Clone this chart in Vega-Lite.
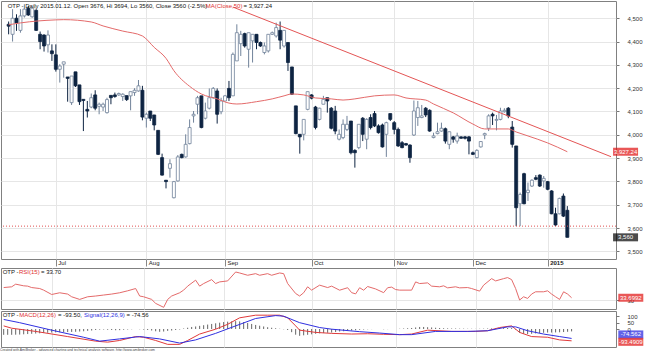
{
  "$schema": "https://vega.github.io/schema/vega-lite/v6.json",
  "padding": 0,
  "background": "white",
  "spacing": 0,
  "config": {
    "view": {"stroke": "#808080", "strokeWidth": 1},
    "axis": {"labelFont": "Liberation Sans", "labelFontSize": 6, "labelColor": "#333", "gridColor": "#e6e6e6", "tickColor": "#777", "domain": false, "title": null, "labelOverlap": false, "labelFlush": false},
    "text": {"font": "Liberation Sans"}
  },
  "title": {"text": "Created with AmiBroker - advanced charting and technical analysis software. http://www.amibroker.com", "orient": "bottom", "anchor": "start", "fontSize": 3.4, "font": "Liberation Sans", "fontWeight": "normal", "color": "#444", "offset": 0},
  "resolve": {"scale": {"x": "independent", "y": "independent"}},
  "datasets": {
    "candles": [
      {"i":1,"o":4474,"hi":4486,"lo":4431,"c":4466,"hist":-46},
      {"i":2,"o":4431,"hi":4539,"lo":4400,"c":4500,"hist":-46},
      {"i":3,"o":4500,"hi":4517,"lo":4446,"c":4480,"hist":-46},
      {"i":4,"o":4448,"hi":4539,"lo":4438,"c":4510,"hist":-45},
      {"i":5,"o":4510,"hi":4560,"lo":4503,"c":4539,"hist":-44},
      {"i":6,"o":4543,"hi":4553,"lo":4510,"c":4514,"hist":-42},
      {"i":7,"o":4506,"hi":4546,"lo":4503,"c":4543,"hist":-40},
      {"i":8,"o":4534,"hi":4539,"lo":4446,"c":4448,"hist":-38},
      {"i":9,"o":4431,"hi":4443,"lo":4367,"c":4400,"hist":-36},
      {"i":10,"o":4428,"hi":4431,"lo":4357,"c":4381,"hist":-34},
      {"i":11,"o":4386,"hi":4448,"lo":4353,"c":4428,"hist":-32},
      {"i":12,"o":4360,"hi":4388,"lo":4317,"c":4348,"hist":-30},
      {"i":13,"o":4343,"hi":4388,"lo":4271,"c":4281,"hist":-28},
      {"i":14,"o":4281,"hi":4303,"lo":4224,"c":4295,"hist":-27},
      {"i":15,"o":4303,"hi":4313,"lo":4245,"c":4313,"hist":-26},
      {"i":16,"o":4248,"hi":4248,"lo":4142,"c":4242,"hist":-25},
      {"i":17,"o":4138,"hi":4252,"lo":4128,"c":4252,"hist":-24},
      {"i":18,"o":4270,"hi":4270,"lo":4205,"c":4210,"hist":-23},
      {"i":19,"o":4214,"hi":4214,"lo":4128,"c":4142,"hist":-22},
      {"i":20,"o":4152,"hi":4152,"lo":4016,"c":4147,"hist":-20},
      {"i":21,"o":4109,"hi":4145,"lo":4074,"c":4102,"hist":-18},
      {"i":22,"o":4119,"hi":4177,"lo":4114,"c":4159,"hist":-15},
      {"i":23,"o":4171,"hi":4191,"lo":4105,"c":4114,"hist":-12},
      {"i":24,"o":4122,"hi":4138,"lo":4088,"c":4131,"hist":-8},
      {"i":25,"o":4119,"hi":4138,"lo":4102,"c":4131,"hist":-5},
      {"i":26,"o":4095,"hi":4159,"lo":4091,"c":4151,"hist":-4},
      {"i":27,"o":4169,"hi":4169,"lo":4131,"c":4159,"hist":-6},
      {"i":28,"o":4171,"hi":4181,"lo":4159,"c":4164,"hist":-8},
      {"i":29,"o":4171,"hi":4181,"lo":4167,"c":4177,"hist":-10},
      {"i":30,"o":4164,"hi":4178,"lo":4145,"c":4174,"hist":-9},
      {"i":31,"o":4168,"hi":4168,"lo":4145,"c":4151,"hist":-6},
      {"i":32,"o":4167,"hi":4185,"lo":4105,"c":4185,"hist":-4},
      {"i":33,"o":4181,"hi":4200,"lo":4167,"c":4191,"hist":-2},
      {"i":34,"o":4188,"hi":4235,"lo":4185,"c":4210,"hist":0},
      {"i":35,"o":4191,"hi":4210,"lo":4062,"c":4076,"hist":-2},
      {"i":36,"o":4071,"hi":4095,"lo":4031,"c":4088,"hist":-5},
      {"i":37,"o":4102,"hi":4102,"lo":4059,"c":4071,"hist":-8},
      {"i":38,"o":4085,"hi":4085,"lo":4019,"c":4042,"hist":-12},
      {"i":39,"o":4019,"hi":4019,"lo":3913,"c":3916,"hist":-18},
      {"i":40,"o":3902,"hi":3919,"lo":3825,"c":3827,"hist":-22},
      {"i":41,"o":3805,"hi":3805,"lo":3770,"c":3799,"hist":-20},
      {"i":42,"o":3856,"hi":3895,"lo":3816,"c":3876,"hist":-15},
      {"i":43,"o":3730,"hi":3802,"lo":3727,"c":3799,"hist":-12},
      {"i":44,"o":3802,"hi":3913,"lo":3799,"c":3905,"hist":-8},
      {"i":45,"o":3916,"hi":3919,"lo":3899,"c":3902,"hist":-4},
      {"i":46,"o":3905,"hi":4002,"lo":3902,"c":3959,"hist":4},
      {"i":47,"o":3962,"hi":4066,"lo":3959,"c":4031,"hist":10},
      {"i":48,"o":4081,"hi":4102,"lo":4052,"c":4088,"hist":16},
      {"i":49,"o":4131,"hi":4167,"lo":4088,"c":4159,"hist":20},
      {"i":50,"o":4167,"hi":4167,"lo":4028,"c":4031,"hist":25},
      {"i":51,"o":4071,"hi":4138,"lo":4066,"c":4102,"hist":30},
      {"i":52,"o":4114,"hi":4199,"lo":4109,"c":4159,"hist":35},
      {"i":53,"o":4159,"hi":4205,"lo":4155,"c":4199,"hist":40},
      {"i":54,"o":4188,"hi":4199,"lo":4048,"c":4088,"hist":45},
      {"i":55,"o":4099,"hi":4159,"lo":4088,"c":4145,"hist":50},
      {"i":56,"o":4145,"hi":4171,"lo":4145,"c":4167,"hist":55},
      {"i":57,"o":4199,"hi":4231,"lo":4145,"c":4159,"hist":58},
      {"i":58,"o":4167,"hi":4353,"lo":4167,"c":4345,"hist":60},
      {"i":59,"o":4317,"hi":4474,"lo":4317,"c":4438,"hist":62},
      {"i":60,"o":4391,"hi":4446,"lo":4338,"c":4431,"hist":60},
      {"i":61,"o":4434,"hi":4438,"lo":4374,"c":4381,"hist":55},
      {"i":62,"o":4367,"hi":4438,"lo":4288,"c":4438,"hist":48},
      {"i":63,"o":4403,"hi":4431,"lo":4310,"c":4431,"hist":40},
      {"i":64,"o":4431,"hi":4431,"lo":4367,"c":4396,"hist":32},
      {"i":65,"o":4396,"hi":4400,"lo":4377,"c":4381,"hist":26},
      {"i":66,"o":4353,"hi":4396,"lo":4345,"c":4381,"hist":20},
      {"i":67,"o":4360,"hi":4431,"lo":4353,"c":4431,"hist":14},
      {"i":68,"o":4431,"hi":4443,"lo":4428,"c":4438,"hist":10},
      {"i":69,"o":4424,"hi":4481,"lo":4417,"c":4460,"hist":6},
      {"i":70,"o":4448,"hi":4486,"lo":4367,"c":4406,"hist":2},
      {"i":71,"o":4381,"hi":4448,"lo":4374,"c":4448,"hist":-2},
      {"i":72,"o":4396,"hi":4396,"lo":4274,"c":4310,"hist":-8},
      {"i":73,"o":4291,"hi":4291,"lo":4171,"c":4174,"hist":-25},
      {"i":74,"o":4124,"hi":4124,"lo":4002,"c":4005,"hist":-45},
      {"i":75,"o":4002,"hi":4002,"lo":3919,"c":3991,"hist":-54},
      {"i":76,"o":4002,"hi":4066,"lo":3976,"c":4066,"hist":-50},
      {"i":77,"o":4109,"hi":4185,"lo":4105,"c":4185,"hist":-46},
      {"i":78,"o":4171,"hi":4174,"lo":4152,"c":4157,"hist":-42},
      {"i":79,"o":4119,"hi":4124,"lo":4023,"c":4031,"hist":-38},
      {"i":80,"o":4066,"hi":4116,"lo":4062,"c":4114,"hist":-34},
      {"i":81,"o":4131,"hi":4167,"lo":4131,"c":4152,"hist":-32},
      {"i":82,"o":4159,"hi":4159,"lo":4095,"c":4145,"hist":-30},
      {"i":83,"o":4114,"hi":4119,"lo":4023,"c":4028,"hist":-28},
      {"i":84,"o":4102,"hi":4124,"lo":4002,"c":4016,"hist":-24},
      {"i":85,"o":3981,"hi":4023,"lo":3976,"c":4002,"hist":-20},
      {"i":86,"o":3988,"hi":4066,"lo":3981,"c":4045,"hist":-18},
      {"i":87,"o":4023,"hi":4081,"lo":4016,"c":4045,"hist":-14},
      {"i":88,"o":4059,"hi":4059,"lo":3916,"c":3923,"hist":-12},
      {"i":89,"o":3933,"hi":3938,"lo":3859,"c":3923,"hist":-10},
      {"i":90,"o":3945,"hi":4045,"lo":3938,"c":4045,"hist":-6},
      {"i":91,"o":4071,"hi":4076,"lo":3973,"c":4002,"hist":-4},
      {"i":92,"o":3981,"hi":4071,"lo":3938,"c":4066,"hist":-2},
      {"i":93,"o":4074,"hi":4088,"lo":4023,"c":4031,"hist":-1},
      {"i":94,"o":4091,"hi":4102,"lo":4033,"c":4038,"hist":0},
      {"i":95,"o":4038,"hi":4045,"lo":4005,"c":4009,"hist":0},
      {"i":96,"o":4042,"hi":4048,"lo":3945,"c":3948,"hist":-2},
      {"i":97,"o":4002,"hi":4056,"lo":3905,"c":4052,"hist":-1},
      {"i":98,"o":4091,"hi":4091,"lo":4059,"c":4066,"hist":0},
      {"i":99,"o":4052,"hi":4059,"lo":4002,"c":4023,"hist":0},
      {"i":100,"o":4023,"hi":4031,"lo":3948,"c":3952,"hist":2},
      {"i":101,"o":3966,"hi":3973,"lo":3942,"c":3945,"hist":4},
      {"i":102,"o":3962,"hi":3965,"lo":3953,"c":3956,"hist":6},
      {"i":103,"o":3956,"hi":3959,"lo":3880,"c":3902,"hist":8},
      {"i":104,"o":3999,"hi":4147,"lo":3995,"c":4102,"hist":12},
      {"i":105,"o":4074,"hi":4145,"lo":4038,"c":4116,"hist":16},
      {"i":106,"o":4074,"hi":4128,"lo":4071,"c":4081,"hist":16},
      {"i":107,"o":4114,"hi":4119,"lo":4076,"c":4085,"hist":14},
      {"i":108,"o":4105,"hi":4109,"lo":4013,"c":4016,"hist":12},
      {"i":109,"o":3988,"hi":4009,"lo":3985,"c":3995,"hist":10},
      {"i":110,"o":4005,"hi":4052,"lo":4002,"c":4013,"hist":8},
      {"i":111,"o":4016,"hi":4052,"lo":4013,"c":4028,"hist":6},
      {"i":112,"o":4026,"hi":4031,"lo":3962,"c":3973,"hist":5},
      {"i":113,"o":3959,"hi":4013,"lo":3938,"c":4013,"hist":4},
      {"i":114,"o":3991,"hi":3995,"lo":3966,"c":3981,"hist":4},
      {"i":115,"o":3973,"hi":4009,"lo":3962,"c":3995,"hist":3},
      {"i":116,"o":3991,"hi":3993,"lo":3983,"c":3985,"hist":3},
      {"i":117,"o":3991,"hi":3995,"lo":3980,"c":3985,"hist":2},
      {"i":118,"o":3991,"hi":3995,"lo":3916,"c":3973,"hist":2},
      {"i":119,"o":3923,"hi":3928,"lo":3913,"c":3916,"hist":1},
      {"i":120,"o":3902,"hi":3938,"lo":3899,"c":3933,"hist":2},
      {"i":121,"o":3948,"hi":3973,"lo":3945,"c":3971,"hist":3},
      {"i":122,"o":3999,"hi":4009,"lo":3981,"c":4005,"hist":4},
      {"i":123,"o":4028,"hi":4088,"lo":4016,"c":4081,"hist":5},
      {"i":124,"o":4088,"hi":4095,"lo":4042,"c":4081,"hist":6},
      {"i":125,"o":4062,"hi":4085,"lo":4019,"c":4066,"hist":7},
      {"i":126,"o":4066,"hi":4116,"lo":4062,"c":4102,"hist":7},
      {"i":127,"o":4099,"hi":4114,"lo":4095,"c":4105,"hist":8},
      {"i":128,"o":4114,"hi":4119,"lo":4071,"c":4081,"hist":7},
      {"i":129,"o":4033,"hi":4059,"lo":3945,"c":3959,"hist":-5},
      {"i":130,"o":3952,"hi":3952,"lo":3608,"c":3687,"hist":-30},
      {"i":131,"o":3704,"hi":3752,"lo":3608,"c":3744,"hist":-38},
      {"i":132,"o":3833,"hi":3837,"lo":3702,"c":3704,"hist":-40},
      {"i":133,"o":3752,"hi":3795,"lo":3716,"c":3762,"hist":-38},
      {"i":134,"o":3780,"hi":3809,"lo":3776,"c":3805,"hist":-35},
      {"i":135,"o":3816,"hi":3827,"lo":3805,"c":3809,"hist":-32},
      {"i":136,"o":3827,"hi":3830,"lo":3776,"c":3780,"hist":-30},
      {"i":137,"o":3802,"hi":3823,"lo":3773,"c":3813,"hist":-28},
      {"i":138,"o":3799,"hi":3802,"lo":3762,"c":3766,"hist":-28},
      {"i":139,"o":3759,"hi":3762,"lo":3659,"c":3661,"hist":-27},
      {"i":140,"o":3661,"hi":3687,"lo":3608,"c":3613,"hist":-26},
      {"i":141,"o":3661,"hi":3730,"lo":3659,"c":3727,"hist":-24},
      {"i":142,"o":3737,"hi":3748,"lo":3647,"c":3651,"hist":-22},
      {"i":143,"o":3676,"hi":3694,"lo":3560,"c":3560,"hist":-19}
    ],
    "ma": [
      {"i":1,"v":4472},{"i":4,"v":4480},{"i":13,"v":4493},{"i":15,"v":4494},{"i":22,"v":4484},{"i":25,"v":4467},{"i":30,"v":4445},{"i":35,"v":4424},{"i":38,"v":4375},{"i":41,"v":4328},{"i":43,"v":4275},{"i":47,"v":4208},{"i":50,"v":4175},{"i":54,"v":4154},{"i":57,"v":4136},{"i":59,"v":4132},{"i":64,"v":4142},{"i":68,"v":4154},{"i":71,"v":4167},{"i":73,"v":4175},{"i":76,"v":4171},{"i":79,"v":4158},{"i":83,"v":4154},{"i":86,"v":4149},{"i":89,"v":4154},{"i":94,"v":4167},{"i":99,"v":4171},{"i":102,"v":4158},{"i":107,"v":4149},{"i":109,"v":4132},{"i":114,"v":4094},{"i":119,"v":4046},{"i":122,"v":4025},{"i":125,"v":4025},{"i":128,"v":4025},{"i":130,"v":4012},{"i":133,"v":3995},{"i":138,"v":3965},{"i":143,"v":3927.24}
    ],
    "trend": [{"i":58,"v":4548},{"i":154.1,"v":3906}],
    "levels": [{"v":3608}],
    "pricetags": [{"v":3927.24,"t":"3,927.24","k":"ma"},{"v":3560,"t":"3,560","k":"close"}],
    "rsi": [
      {"i":1,"v":50.3},{"i":3,"v":51.5},{"i":4,"v":55.8},{"i":6,"v":53.1},{"i":7,"v":52.6},{"i":8,"v":50.3},{"i":10,"v":48.7},{"i":11,"v":46.1},{"i":13,"v":39.0},{"i":15,"v":41.8},{"i":17,"v":39.7},{"i":18,"v":35.3},{"i":20,"v":31.0},{"i":22,"v":35.3},{"i":24,"v":36.5},{"i":26,"v":38.1},{"i":28,"v":39.7},{"i":30,"v":41.8},{"i":32,"v":45.0},{"i":34,"v":48.7},{"i":35,"v":36.5},{"i":36,"v":35.3},{"i":38,"v":31.0},{"i":39,"v":24.5},{"i":41,"v":18.1},{"i":42,"v":31.0},{"i":43,"v":36.5},{"i":45,"v":41.8},{"i":46,"v":46.1},{"i":47,"v":52.6},{"i":49,"v":62.3},{"i":50,"v":52.6},{"i":51,"v":56.8},{"i":53,"v":63.2},{"i":54,"v":56.8},{"i":55,"v":59.5},{"i":57,"v":61.1},{"i":59,"v":75.6},{"i":60,"v":74.0},{"i":62,"v":70.3},{"i":64,"v":72.9},{"i":65,"v":70.3},{"i":67,"v":72.9},{"i":68,"v":70.3},{"i":70,"v":74.0},{"i":71,"v":72.9},{"i":72,"v":56.8},{"i":74,"v":40.6},{"i":75,"v":36.5},{"i":76,"v":41.8},{"i":77,"v":51.5},{"i":78,"v":46.1},{"i":80,"v":54.2},{"i":82,"v":50.3},{"i":83,"v":52.6},{"i":85,"v":46},{"i":87,"v":50},{"i":88,"v":42},{"i":89,"v":40},{"i":90,"v":50},{"i":91,"v":46},{"i":92,"v":52},{"i":94,"v":48},{"i":96,"v":42},{"i":97,"v":50},{"i":98,"v":51},{"i":99,"v":47},{"i":100,"v":46.1},{"i":103,"v":46.1},{"i":104,"v":59.5},{"i":105,"v":56.8},{"i":107,"v":57.9},{"i":108,"v":52.6},{"i":110,"v":51.5},{"i":111,"v":53.1},{"i":112,"v":49.8},{"i":114,"v":51.5},{"i":115,"v":49.8},{"i":117,"v":50.3},{"i":118,"v":48.7},{"i":120,"v":44.5},{"i":121,"v":54.2},{"i":123,"v":64.8},{"i":124,"v":61.1},{"i":126,"v":64.8},{"i":127,"v":66.5},{"i":128,"v":63.2},{"i":129,"v":48.7},{"i":130,"v":30.0},{"i":131,"v":35.3},{"i":132,"v":32.6},{"i":133,"v":39.7},{"i":134,"v":43.4},{"i":136,"v":43.4},{"i":137,"v":45.0},{"i":138,"v":39.7},{"i":139,"v":35.3},{"i":140,"v":31.0},{"i":141,"v":43.4},{"i":142,"v":39.7},{"i":143,"v":33.7}
    ],
    "macd": [
      {"i":1,"v":24.7},{"i":3,"v":6.2},{"i":9,"v":-19.1},{"i":17,"v":-59.9},{"i":24,"v":-96.0},{"i":27,"v":-103.8},{"i":30,"v":-90.7},{"i":34,"v":-59.9},{"i":36,"v":-65.3},{"i":39,"v":-90.7},{"i":42,"v":-121.5},{"i":45,"v":-121.5},{"i":47,"v":-90.7},{"i":50,"v":-39.9},{"i":54,"v":-1.4},{"i":57,"v":37.0},{"i":60,"v":88.4},{"i":64,"v":109.2},{"i":67,"v":109.2},{"i":70,"v":109.2},{"i":72,"v":88.4},{"i":74,"v":24.7},{"i":75,"v":-9.2},{"i":79,"v":-26.9},{"i":83,"v":-34.5},{"i":88,"v":-39.7},{"i":92,"v":-37.5},{"i":96,"v":-41.8},{"i":100,"v":-44.6},{"i":103,"v":-39.9},{"i":107,"v":-9.2},{"i":113,"v":-19.1},{"i":119,"v":-19.1},{"i":122,"v":-13.8},{"i":125,"v":11.6},{"i":128,"v":24.7},{"i":130,"v":-26.9},{"i":133,"v":-59.9},{"i":137,"v":-65.3},{"i":140,"v":-86.1},{"i":143,"v":-93.5}
    ],
    "signal": [
      {"i":1,"v":75.4},{"i":5,"v":50.0},{"i":13,"v":-9.2},{"i":21,"v":-65.3},{"i":25,"v":-96.0},{"i":30,"v":-78.3},{"i":35,"v":-59.9},{"i":40,"v":-78.3},{"i":45,"v":-111.4},{"i":49,"v":-86.1},{"i":54,"v":-34.5},{"i":59,"v":24.7},{"i":64,"v":83.1},{"i":69,"v":106.1},{"i":71,"v":101.5},{"i":75,"v":50.0},{"i":80,"v":11.6},{"i":83,"v":-1.4},{"i":90,"v":-21.1},{"i":95,"v":-32.0},{"i":100,"v":-44.6},{"i":103,"v":-44.6},{"i":109,"v":-19.1},{"i":117,"v":-19.1},{"i":122,"v":-13.8},{"i":127,"v":17.0},{"i":129,"v":17.0},{"i":132,"v":-13.8},{"i":136,"v":-39.9},{"i":140,"v":-59.9},{"i":143,"v":-74.56}
    ],
    "indtags": [{"panel":"rsi","v":33.6992,"t":"33.6992"},{"panel":"signal","v":-74.562,"t":"-74.562"},{"panel":"macd","v":-93.4909,"t":"-93.4909"}]
  },
  "vconcat": [
    {
      "width": 615,
      "height": 258,
      "layer": [
        {
          "data": {"name": "candles"},
          "mark": {"type": "rule", "strokeWidth": 1},
          "encoding": {
            "x": {"field": "i", "type": "quantitative", "scale": {"domain": [0.33, 154.1], "nice": false, "zero": false},
              "axis": {"values": [13, 36, 56, 78, 99, 119, 138], "tickCount": 30, "labelExpr": "datum.value==13?'Jul':datum.value==36?'Aug':datum.value==56?'Sep':datum.value==78?'Oct':datum.value==99?'Nov':datum.value==119?'Dec':'2015'", "labelAlign": "left", "labelBaseline": "top", "labelOffset": 2, "labelPadding": -7, "tickSize": 7, "tickColor": "#888", "grid": true, "labelColor": "#222", "labelOverlap": false, "labelFontWeight": {"condition": {"test": "datum.value==138", "value": "bold"}, "value": "normal"}}},
            "y": {"field": "lo", "type": "quantitative", "scale": {"domain": [3467, 4574], "nice": false, "zero": false},
              "axis": {"orient": "right", "values": [3500, 3600, 3700, 3800, 3900, 4000, 4100, 4200, 4300, 4400, 4500], "tickCount": 30, "format": ",.0f", "tickSize": 3, "labelPadding": 8, "grid": true, "labelOverlap": false}},
            "y2": {"field": "hi"},
            "color": {"condition": {"test": "datum.c >= datum.o", "value": "#71839a"}, "value": "#0e2442"}
          }
        },
        {
          "data": {"name": "candles"},
          "mark": {"type": "bar", "width": 3, "strokeWidth": 0.8},
          "encoding": {
            "x": {"field": "i", "type": "quantitative"},
            "y": {"field": "o", "type": "quantitative"},
            "y2": {"field": "c"},
            "fill": {"condition": {"test": "datum.c >= datum.o", "value": "#ffffff"}, "value": "#0e2442"},
            "stroke": {"condition": {"test": "datum.c >= datum.o", "value": "#71839a"}, "value": "#0e2442"}
          }
        },
        {
          "data": {"name": "ma"},
          "mark": {"type": "line", "color": "#e46a6a", "strokeWidth": 1, "interpolate": "monotone"},
          "encoding": {"x": {"field": "i", "type": "quantitative"}, "y": {"field": "v", "type": "quantitative"}}
        },
        {
          "data": {"name": "trend"},
          "mark": {"type": "line", "color": "#e45555", "strokeWidth": 1, "clip": true},
          "encoding": {"x": {"field": "i", "type": "quantitative"}, "y": {"field": "v", "type": "quantitative"}}
        },
        {
          "data": {"name": "levels"},
          "mark": {"type": "rule", "color": "#e05050", "strokeDash": [1, 2], "strokeWidth": 1},
          "encoding": {"y": {"field": "v", "type": "quantitative"}}
        },
        {
          "data": {"values": [{"t": "OTP - Daily 2015.01.12. Open 3676, Hi 3694, Lo 3560, Close 3560 (-2.5%)"}]},
          "mark": {"type": "text", "align": "left", "baseline": "middle", "fontSize": 6, "color": "#111"},
          "encoding": {"x": {"datum": 0.75}, "y": {"datum": 4552}, "text": {"field": "t"}}
        },
        {
          "data": {"values": [{"t": "MA(Close,50)"}]},
          "mark": {"type": "text", "align": "left", "baseline": "middle", "fontSize": 6, "color": "#e03030"},
          "encoding": {"x": {"datum": 51.1}, "y": {"datum": 4552}, "text": {"field": "t"}}
        },
        {
          "data": {"values": [{"t": "= 3,927.24"}]},
          "mark": {"type": "text", "align": "left", "baseline": "middle", "fontSize": 6, "color": "#111"},
          "encoding": {"x": {"datum": 60.7}, "y": {"datum": 4552}, "text": {"field": "t"}}
        },
        {
          "data": {"name": "pricetags"},
          "mark": {"type": "tick", "orient": "horizontal", "size": 25, "thickness": 8, "clip": false},
          "encoding": {
            "x": {"datum": 157.8},
            "y": {"field": "v", "type": "quantitative"},
            "color": {"condition": {"test": "datum.k == 'ma'", "value": "#e01010"}, "value": "#000000"}
          }
        },
        {
          "data": {"name": "pricetags"},
          "mark": {"type": "text", "align": "center", "baseline": "middle", "fontSize": 6, "color": "white", "clip": false},
          "encoding": {"x": {"datum": 157.8}, "y": {"field": "v", "type": "quantitative"}, "text": {"field": "t"}}
        }
      ]
    },
    {
      "width": 615,
      "height": 41,
      "layer": [
        {
          "data": {"name": "rsi"},
          "mark": {"type": "line", "color": "#e46a6a", "strokeWidth": 1},
          "encoding": {
            "x": {"field": "i", "type": "quantitative", "scale": {"domain": [0.33, 154.1], "nice": false, "zero": false},
              "axis": {"values": [13, 36, 56, 78, 99, 119, 138], "tickCount": 30, "labels": false, "ticks": false, "grid": true}},
            "y": {"field": "v", "type": "quantitative", "scale": {"domain": [15.4, 82.1], "nice": false, "zero": false},
              "axis": {"orient": "right", "values": [30], "tickCount": 30, "tickSize": 3, "labelPadding": 8, "grid": true, "labelOverlap": false}}
          }
        },
        {
          "data": {"values": [{"t": "OTP - "}]},
          "mark": {"type": "text", "align": "left", "baseline": "middle", "fontSize": 6, "color": "#111"},
          "encoding": {"x": {"datum": 0.75}, "y": {"datum": 75.6}, "text": {"field": "t"}}
        },
        {
          "data": {"values": [{"t": "RSI(15)"}]},
          "mark": {"type": "text", "align": "left", "baseline": "middle", "fontSize": 6, "color": "#e03030"},
          "encoding": {"x": {"datum": 4.83}, "y": {"datum": 75.6}, "text": {"field": "t"}}
        },
        {
          "data": {"values": [{"t": "= 33.70"}]},
          "mark": {"type": "text", "align": "left", "baseline": "middle", "fontSize": 6, "color": "#111"},
          "encoding": {"x": {"datum": 10.33}, "y": {"datum": 75.6}, "text": {"field": "t"}}
        },
        {
          "data": {"name": "indtags"},
          "transform": [{"filter": "datum.panel == 'rsi'"}],
          "mark": {"type": "tick", "orient": "horizontal", "size": 25, "thickness": 8, "color": "#e01010", "clip": false},
          "encoding": {"x": {"datum": 157.8}, "y": {"field": "v", "type": "quantitative"}}
        },
        {
          "data": {"name": "indtags"},
          "transform": [{"filter": "datum.panel == 'rsi'"}],
          "mark": {"type": "text", "align": "center", "baseline": "middle", "fontSize": 6, "color": "white", "clip": false},
          "encoding": {"x": {"datum": 157.8}, "y": {"field": "v", "type": "quantitative"}, "text": {"field": "t"}}
        }
      ]
    },
    {
      "width": 615,
      "height": 36,
      "layer": [
        {
          "data": {"name": "candles"},
          "mark": {"type": "rule", "color": "#555", "strokeWidth": 0.9},
          "encoding": {
            "x": {"field": "i", "type": "quantitative", "scale": {"domain": [0.33, 154.1], "nice": false, "zero": false},
              "axis": {"values": [13, 36, 56, 78, 99, 119, 138], "tickCount": 30, "labels": false, "ticks": false, "grid": true}},
            "y": {"field": "hist", "type": "quantitative", "scale": {"domain": [-142.3, 142.3], "nice": false, "zero": false},
              "axis": {"orient": "right", "values": [0, 50, 100], "tickCount": 30, "tickSize": 3, "labelPadding": 8, "grid": false, "labelOverlap": false}},
            "y2": {"datum": 0}
          }
        },
        {
          "data": {"name": "macd"},
          "mark": {"type": "line", "color": "#e03a3a", "strokeWidth": 1},
          "encoding": {"x": {"field": "i", "type": "quantitative"}, "y": {"field": "v", "type": "quantitative"}}
        },
        {
          "data": {"name": "signal"},
          "mark": {"type": "line", "color": "#3030e0", "strokeWidth": 1},
          "encoding": {"x": {"field": "i", "type": "quantitative"}, "y": {"field": "v", "type": "quantitative"}}
        },
        {
          "data": {"values": [{"t": "OTP - "}]},
          "mark": {"type": "text", "align": "left", "baseline": "middle", "fontSize": 6, "color": "#111"},
          "encoding": {"x": {"datum": 0.75}, "y": {"datum": 108}, "text": {"field": "t"}}
        },
        {
          "data": {"values": [{"t": "MACD(12,26)"}]},
          "mark": {"type": "text", "align": "left", "baseline": "middle", "fontSize": 6, "color": "#e03030"},
          "encoding": {"x": {"datum": 4.9}, "y": {"datum": 108}, "text": {"field": "t"}}
        },
        {
          "data": {"values": [{"t": "= -93.50,"}]},
          "mark": {"type": "text", "align": "left", "baseline": "middle", "fontSize": 6, "color": "#111"},
          "encoding": {"x": {"datum": 14.6}, "y": {"datum": 108}, "text": {"field": "t"}}
        },
        {
          "data": {"values": [{"t": "Signal(12,26,9)"}]},
          "mark": {"type": "text", "align": "left", "baseline": "middle", "fontSize": 6, "color": "#3030e0"},
          "encoding": {"x": {"datum": 21.1}, "y": {"datum": 108}, "text": {"field": "t"}}
        },
        {
          "data": {"values": [{"t": "= -74.56"}]},
          "mark": {"type": "text", "align": "left", "baseline": "middle", "fontSize": 6, "color": "#111"},
          "encoding": {"x": {"datum": 31.7}, "y": {"datum": 108}, "text": {"field": "t"}}
        },
        {
          "data": {"name": "indtags"},
          "transform": [{"filter": "datum.panel == 'signal'"}],
          "mark": {"type": "tick", "orient": "horizontal", "size": 25, "thickness": 8, "color": "#2020e0", "clip": false, "yOffset": -4},
          "encoding": {"x": {"datum": 157.8}, "y": {"field": "v", "type": "quantitative"}}
        },
        {
          "data": {"name": "indtags"},
          "transform": [{"filter": "datum.panel == 'signal'"}],
          "mark": {"type": "text", "align": "center", "baseline": "middle", "fontSize": 6, "color": "white", "clip": false, "yOffset": -4},
          "encoding": {"x": {"datum": 157.8}, "y": {"field": "v", "type": "quantitative"}, "text": {"field": "t"}}
        },
        {
          "data": {"name": "indtags"},
          "transform": [{"filter": "datum.panel == 'macd'"}],
          "mark": {"type": "tick", "orient": "horizontal", "size": 25, "thickness": 8, "color": "#e01010", "clip": false, "yOffset": 1},
          "encoding": {"x": {"datum": 157.8}, "y": {"field": "v", "type": "quantitative"}}
        },
        {
          "data": {"name": "indtags"},
          "transform": [{"filter": "datum.panel == 'macd'"}],
          "mark": {"type": "text", "align": "center", "baseline": "middle", "fontSize": 6, "color": "white", "clip": false, "yOffset": 1},
          "encoding": {"x": {"datum": 157.8}, "y": {"field": "v", "type": "quantitative"}, "text": {"field": "t"}}
        }
      ]
    }
  ]
}
